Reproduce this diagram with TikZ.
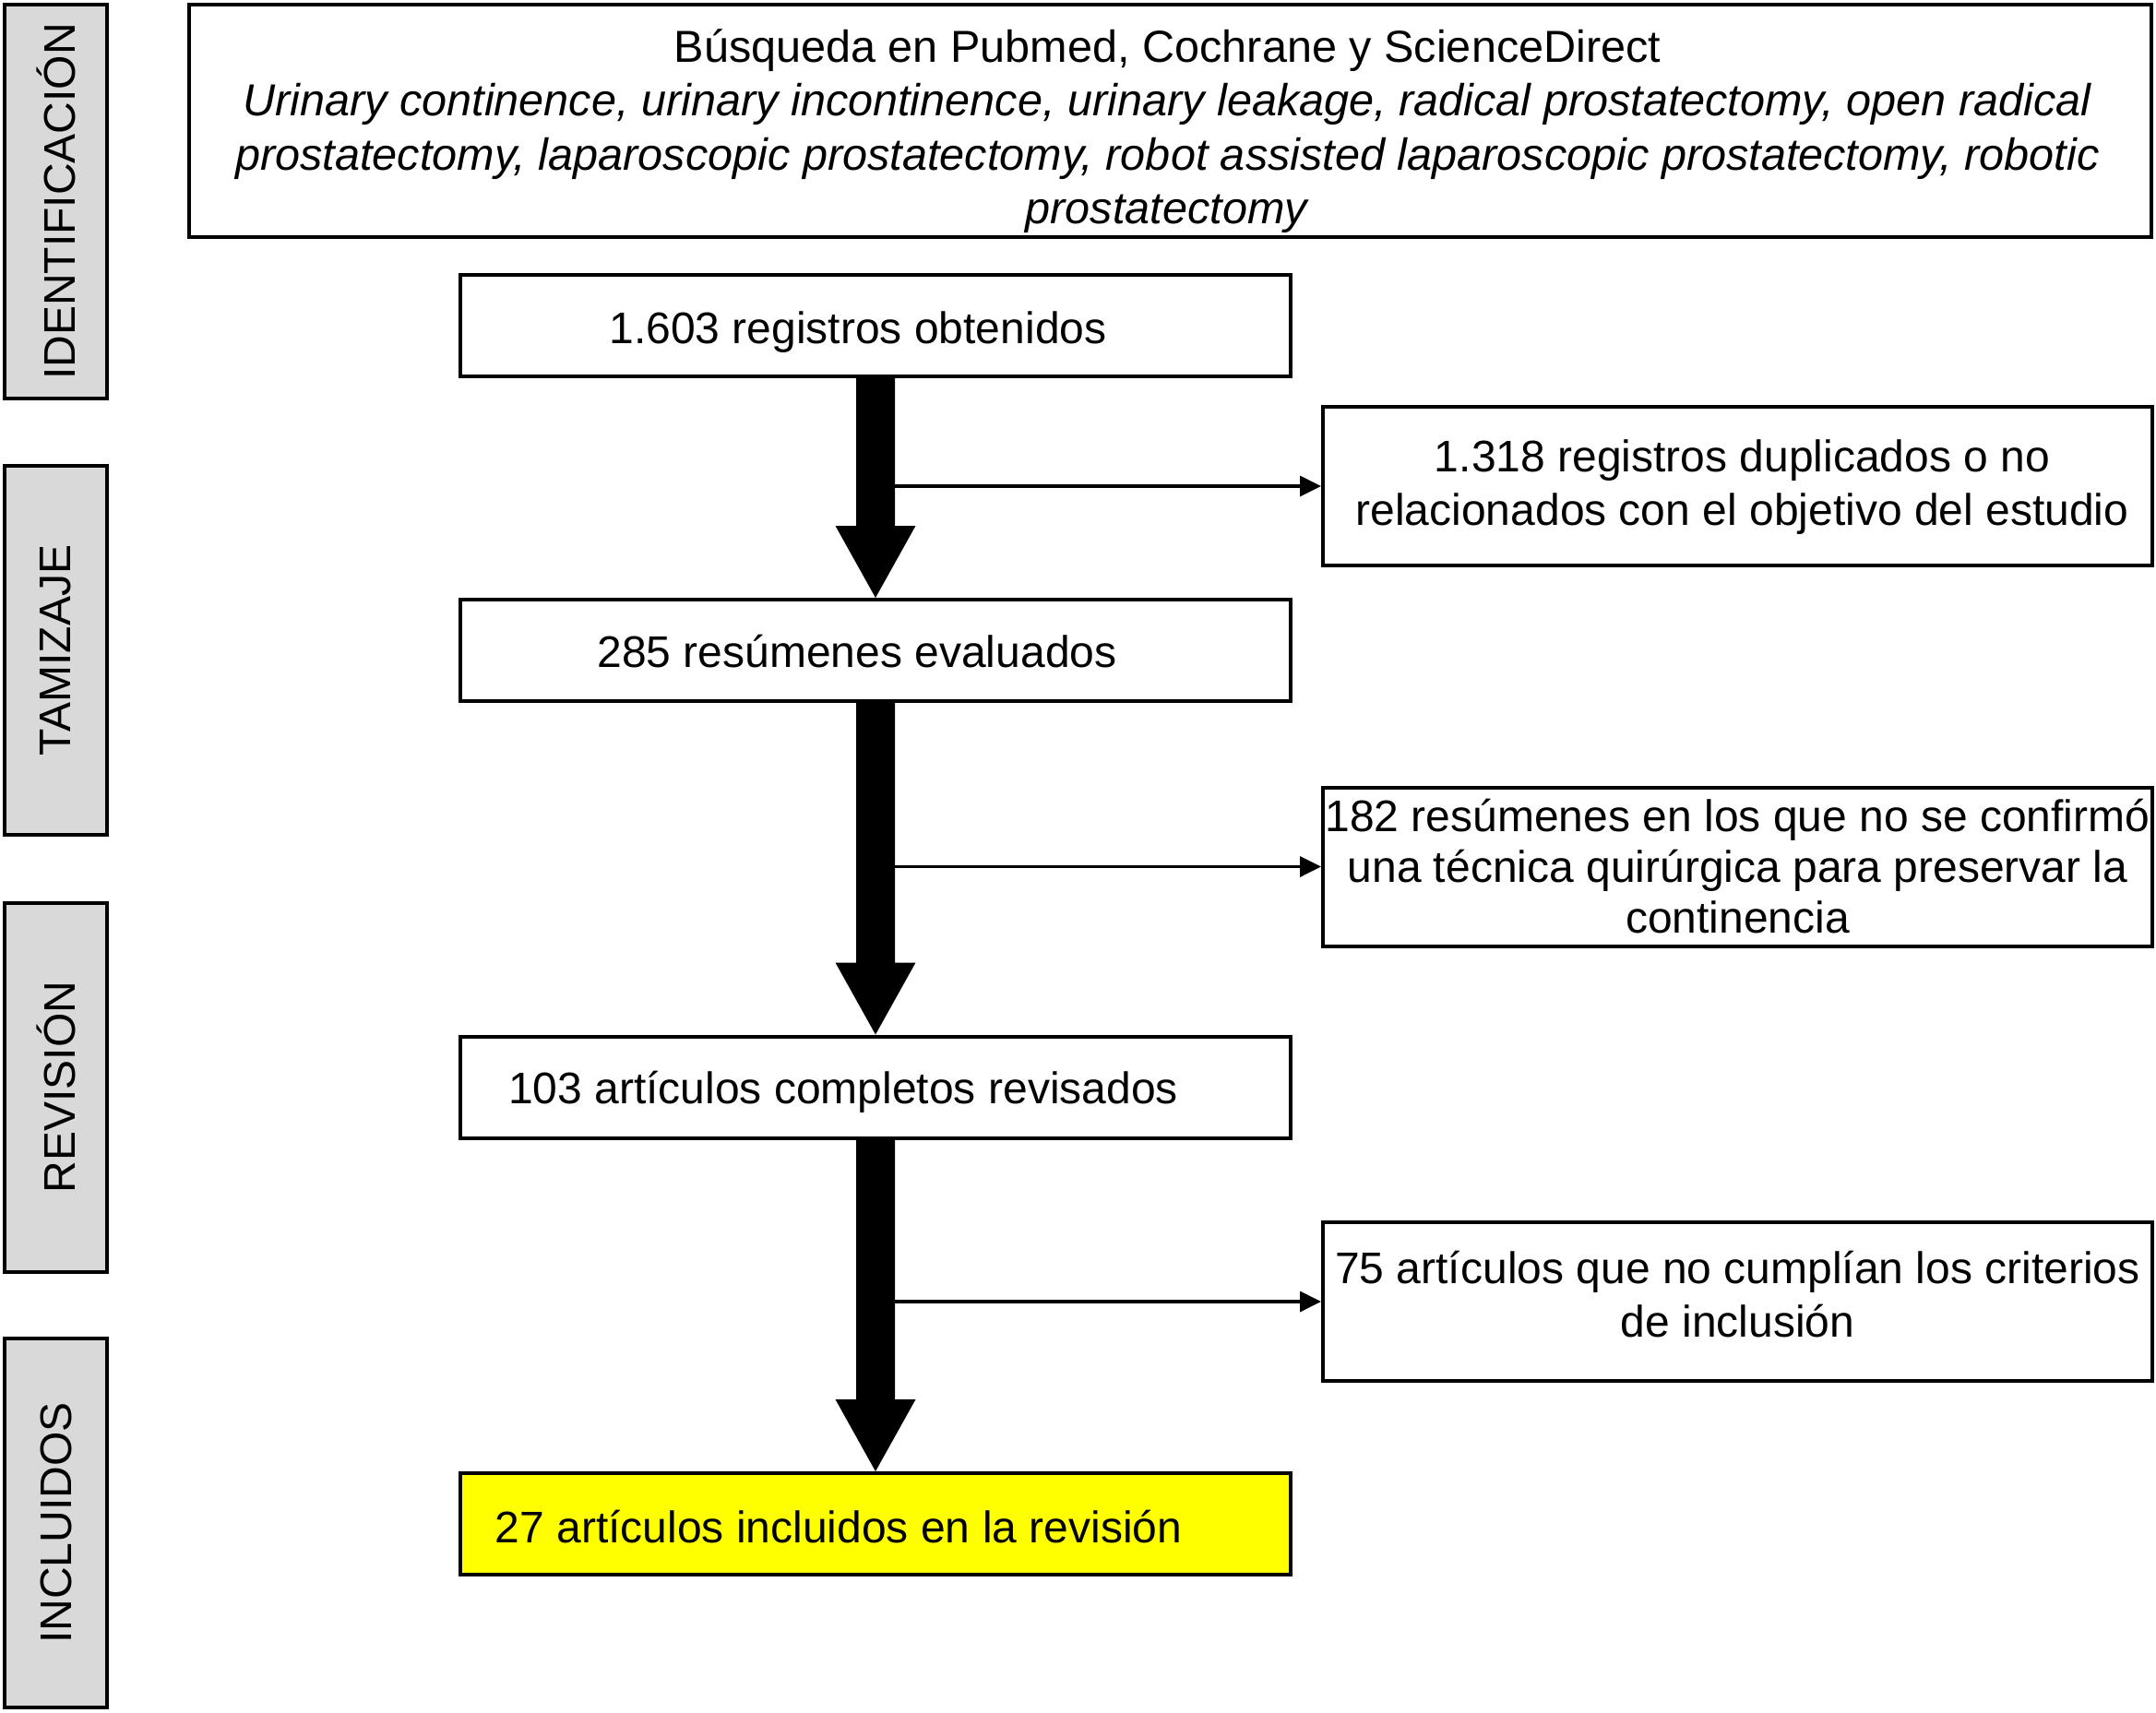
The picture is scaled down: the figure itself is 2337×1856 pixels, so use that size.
\documentclass[tikz,border=0pt]{standalone}
\usepackage{fontspec}
\setmainfont{Liberation Sans}
\usetikzlibrary{arrows.meta,calc}
\definecolor{labgray}{HTML}{D9D9D9}
\definecolor{incyellow}{HTML}{FFFF00}
\newcommand\bigflow[2]{%
  \fill ([xshift=-10.5pt]#1.south) -- ([xshift=10.5pt]#1.south)
    -- ([xshift=10.5pt,yshift=39pt]#2.north) -- ([xshift=21.75pt,yshift=39pt]#2.north)
    -- (#2.north) -- ([xshift=-21.75pt,yshift=39pt]#2.north)
    -- ([xshift=-10.5pt,yshift=39pt]#2.north) -- cycle;}
\begin{document}
\begin{tikzpicture}[x=0.5pt,y=-0.5pt,
  every node/.style={font=\fontsize{24}{29}\selectfont},
  box/.style={draw=black, line width=2pt, fill=white, inner sep=0pt, minimum width=450pt, minimum height=55pt},
  sidebox/.style={draw=black, line width=2pt, fill=white, inner sep=0pt, minimum width=449.5pt, minimum height=86pt, align=center},
  stagebox/.style={draw=black, line width=2pt, fill=labgray, inner sep=0pt, minimum height=55.5pt, minimum width=200pt, rotate=90},
  txt/.style={inner sep=0pt, align=center},
  sidearrow/.style={line width=1.75pt, -{Triangle[length=11.5pt,width=11pt]}},
]
\useasboundingbox (0,0) rectangle (2337,1856);

% stage labels
\node[stagebox, minimum width=213.5pt] (sid) at (60.5,218.5) {IDENTIFICACIÓN};
\node[stagebox] (stam) at (60.5,705) {TAMIZAJE};
\node[stagebox] (srev) at (60.5,1178.5) {REVISIÓN};
\node[stagebox] (sinc) at (60.5,1651) {INCLUIDOS};

% search box
\node[draw=black, line width=2pt, inner sep=0pt, minimum width=1063.5pt, minimum height=126pt] (search) at (1268.5,131) {};
\node[txt, font=\fontsize{24.3}{29.2}\selectfont] (searcht) at ($(search.center)+(-3,11)$) {Búsqueda en Pubmed, Cochrane y ScienceDirect\\
\textit{Urinary continence, urinary incontinence, urinary leakage, radical prostatectomy, open radical}\\
\textit{prostatectomy, laparoscopic prostatectomy, robot assisted laparoscopic prostatectomy, robotic}\\
\textit{prostatectomy}};

% main column
\node[box] (b1) at (949,353) {};
\node[txt] (t1) at ($(b1.center)+(-19,7)$) {1.603 registros obtenidos};
\node[box] (b2) at (949,705) {};
\node[txt] (t2) at ($(b2.center)+(-20,1)$) {285 resúmenes evaluados};
\node[box] (b3) at (949,1178.5) {};
\node[txt] (t3) at ($(b3.center)+(-35,5)$) {103 artículos completos revisados};
\node[box, fill=incyellow] (b4) at (949,1652) {};
\node[txt] (t4) at ($(b4.center)+(-40,3)$) {27 artículos incluidos en la revisión};

% side boxes
\node[sidebox] (r1) at (1883.5,527) {};
\node[txt] (r1t) at ($(r1.center)+(5,1)$) {1.318 registros duplicados o no\\relacionados con el objetivo del estudio};
\node[sidebox, font=\fontsize{24}{27.5}\selectfont] (r2) at (1883.5,939.5) {182 resúmenes en los que no se confirmó\\una técnica quirúrgica para preservar la\\continencia};
\node[sidebox] (r3) at (1883.5,1411) {};
\node[txt] (r3t) at ($(r3.center)+(0,-8)$) {75 artículos que no cumplían los criterios\\de inclusión};

% thick flow arrows
\bigflow{b1}{b2}
\bigflow{b2}{b3}
\bigflow{b3}{b4}

% side arrows
\coordinate (e1) at ([xshift=10.5pt]b1.south);
\coordinate (e2) at ([xshift=10.5pt]b2.south);
\coordinate (e3) at ([xshift=10.5pt]b3.south);
\draw[sidearrow] (e1 |- r1.west) -- (r1.west);
\draw[sidearrow] (e2 |- r2.west) -- (r2.west);
\draw[sidearrow] (e3 |- r3.west) -- (r3.west);
\end{tikzpicture}
\end{document}
